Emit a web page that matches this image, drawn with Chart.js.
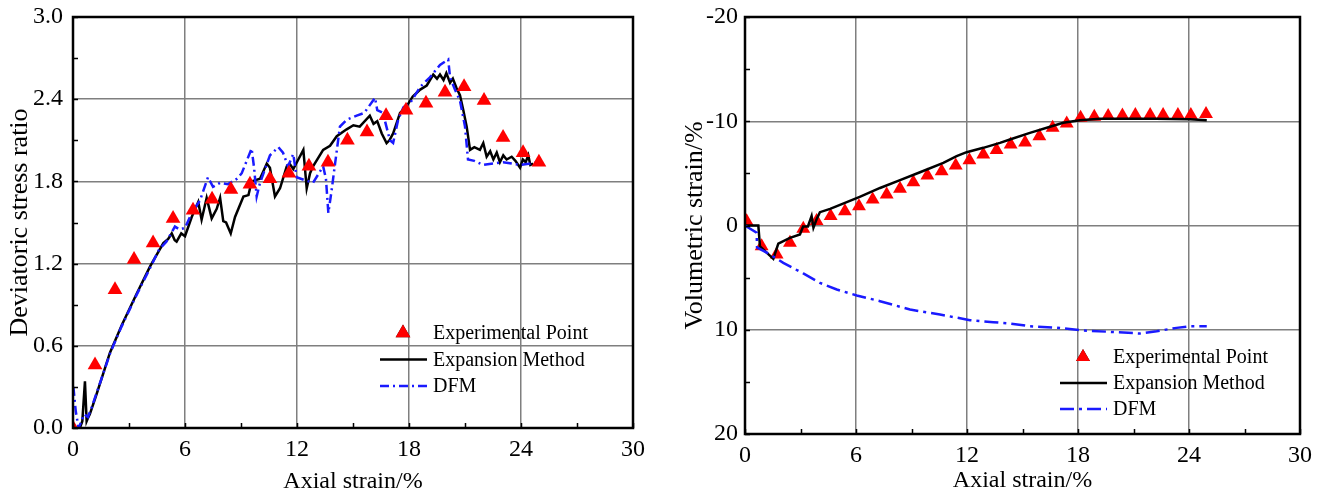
<!DOCTYPE html>
<html lang="en">
<head>
    <meta charset="UTF-8">
    <title>Deviatoric stress ratio and volumetric strain</title>
    <script src="https://cdn.jsdelivr.net/npm/chart.js"></script>
    <style>
        html, body { margin: 0; padding: 0; background: #fff; }
        .wrap { position: relative; width: 1322px; height: 494px; }
        #leftBox { position: absolute; left: 0; top: 0; width: 660px; height: 494px; }
        #rightBox { position: absolute; left: 660px; top: 0; width: 662px; height: 494px; }
    </style>
</head>
<body>
<div class="wrap">
    <div id="leftBox"><canvas id="stressChart" width="660" height="494"></canvas></div>
    <div id="rightBox"><canvas id="volChart" width="662" height="494"></canvas></div>
</div>
<script>
// ---- left chart: deviatoric stress ratio ----
const stressTicks = [0, 0.6, 1.2, 1.8, 2.4, 3.0];
const strainTicks = [0, 6, 12, 18, 24, 30];

const expStressX = [0, 1.18, 2.25, 3.27, 4.29, 5.36, 6.43, 7.45, 8.46, 9.48,
    10.55, 11.57, 12.64, 13.66, 14.70, 15.75, 16.77, 17.84, 18.91, 19.93,
    20.95, 22.02, 23.04, 24.11, 24.96];
const expStressY = [0, 0.46, 1.01, 1.23, 1.35, 1.53, 1.59, 1.67, 1.74, 1.78,
    1.82, 1.86, 1.91, 1.94, 2.10, 2.16, 2.28, 2.32, 2.37, 2.45,
    2.49, 2.39, 2.12, 2.01, 1.94];

const expanStressX = [0.37, 0.50, 0.64, 0.73, 0.79, 0.90, 1.27, 1.98, 2.61, 3.41,
    4.13, 4.84, 5.10, 5.29, 5.45, 5.55, 5.80, 6.00, 6.36, 6.71,
    6.89, 7.16, 7.43, 7.70, 7.88, 8.05, 8.20, 8.45, 8.68, 9.13,
    9.40, 9.57, 10.02, 10.38, 10.55, 10.82, 11.09, 11.45, 11.60, 11.80,
    12.07, 12.34, 12.52, 12.70, 12.86, 13.40, 13.77, 14.13, 14.66, 15.02,
    15.36, 15.90, 16.10, 16.30, 16.54, 16.80, 16.95, 17.15, 17.52, 17.88,
    18.20, 18.60, 18.95, 19.30, 19.50, 19.66, 19.85, 20.00, 20.20, 20.35,
    20.55, 20.73, 20.91, 21.09, 21.27, 21.50, 21.80, 21.98, 22.16, 22.35,
    22.52, 22.70, 22.87, 23.05, 23.23, 23.50, 23.70, 23.95, 24.10, 24.25,
    24.39, 24.50, 24.65];
const expanStressY = [0.00, 0.05, 0.34, 0.05, 0.07, 0.10, 0.25, 0.55, 0.75, 0.98,
    1.18, 1.35, 1.38, 1.42, 1.37, 1.36, 1.42, 1.40, 1.54, 1.65,
    1.52, 1.68, 1.53, 1.60, 1.68, 1.51, 1.50, 1.42, 1.54, 1.69,
    1.70, 1.80, 1.82, 1.93, 1.90, 1.69, 1.75, 1.91, 1.93, 1.89,
    1.96, 2.03, 1.75, 1.86, 1.91, 2.03, 2.06, 2.13, 2.18, 2.21,
    2.20, 2.28, 2.22, 2.24, 2.15, 2.08, 2.10, 2.15, 2.30, 2.35,
    2.42, 2.47, 2.50, 2.58, 2.55, 2.58, 2.54, 2.59, 2.52, 2.55,
    2.48, 2.43, 2.32, 2.20, 2.03, 2.05, 2.03, 2.08, 1.98, 2.02,
    1.96, 2.01, 1.94, 1.99, 1.96, 1.98, 1.95, 1.90, 1.96, 1.94,
    1.99, 1.92, 1.93];

const dfmStressX = [0.02, 0.15, 0.30, 0.60, 0.80, 1.00, 1.50, 2.00, 2.60, 3.40,
    4.10, 4.60, 5.00, 5.46, 5.70, 6.00, 6.36, 6.80, 7.23, 7.50,
    7.88, 8.30, 8.80, 9.04, 9.57, 9.70, 9.84, 10.00, 10.55, 11.00,
    11.25, 11.52, 11.80, 11.98, 12.40, 12.86, 13.40, 13.55, 13.68, 13.84,
    14.04, 14.30, 14.66, 15.20, 15.60, 16.18, 16.30, 16.60, 16.98, 17.15,
    17.42, 17.70, 18.10, 18.60, 19.12, 19.66, 20.10, 20.20, 20.46, 20.73,
    21.00, 21.16, 21.50, 21.98, 22.50, 23.04, 23.50, 23.95, 24.50, 24.90];
const dfmStressY = [0.30, 0.12, 0.00, 0.10, 0.08, 0.15, 0.35, 0.55, 0.74, 0.97,
    1.16, 1.30, 1.36, 1.47, 1.45, 1.46, 1.57, 1.66, 1.83, 1.76,
    1.79, 1.78, 1.82, 1.86, 2.04, 1.90, 1.69, 1.78, 1.99, 2.05,
    2.01, 1.91, 2.00, 1.83, 1.81, 1.79, 1.91, 1.82, 1.57, 1.72,
    1.93, 2.20, 2.25, 2.28, 2.30, 2.41, 2.32, 2.30, 2.10, 2.08,
    2.25, 2.34, 2.38, 2.49, 2.56, 2.65, 2.69, 2.56, 2.47, 2.39,
    2.20, 1.96, 1.95, 1.92, 1.93, 1.94, 1.93, 1.92, 1.93, 1.94];

// ---- right chart: volumetric strain ----
const volTicks = [-20, -10, 0, 10, 20];

const expVolX = [0.09, 0.90, 1.71, 2.43, 3.15, 3.87, 4.63, 5.40, 6.16, 6.90,
    7.66, 8.38, 9.10, 9.86, 10.63, 11.39, 12.13, 12.88, 13.60, 14.36,
    15.14, 15.91, 16.63, 17.39, 18.14, 18.88, 19.63, 20.40, 21.10, 21.90,
    22.60, 23.40, 24.10, 24.92];
const expVolY = [-0.41, 2.00, 2.78, 1.65, 0.30, -0.42, -0.90, -1.37, -1.85, -2.49,
    -2.97, -3.52, -4.16, -4.80, -5.21, -5.76, -6.27, -6.81, -7.25, -7.77,
    -7.96, -8.57, -9.37, -9.78, -10.33, -10.43, -10.50, -10.55, -10.60, -10.60,
    -10.60, -10.60, -10.60, -10.70];

const expanVolX = [0, 0.72, 0.81, 1.53, 1.80, 2.43, 2.97, 3.14, 3.40, 3.60,
    3.70, 3.87, 4.05, 4.60, 5.50, 6.20, 7.30, 8.38, 9.46, 10.72,
    11.44, 11.98, 12.88, 13.78, 14.32, 15.40, 16.49, 17.20, 18.10, 19.19,
    20.40, 22.20, 24.05, 24.96];
const expanVolY = [0, 0, 2.00, 3.20, 1.73, 1.18, 0.86, 0.10, 0.10, -0.90,
    0.20, -0.60, -1.28, -1.60, -2.24, -2.75, -3.60, -4.35, -5.11, -6.00,
    -6.65, -7.03, -7.45, -7.93, -8.25, -8.89, -9.47, -9.85, -10.10, -10.23,
    -10.25, -10.25, -10.20, -10.10];

const dfmVolX = [0, 0.63, 0.65, 1.35, 2.07, 3.15, 4.05, 4.96, 6.04, 7.30,
    8.92, 10.54, 12.16, 13.42, 14.32, 15.40, 16.85, 18.29, 19.73, 21.35,
    22.25, 23.33, 24.05, 24.96];
const dfmVolY = [0, 0.70, 2.10, 2.78, 3.58, 4.60, 5.50, 6.14, 6.71, 7.26,
    8.06, 8.54, 9.08, 9.27, 9.40, 9.66, 9.80, 10.07, 10.20, 10.36,
    10.14, 9.82, 9.66, 9.66];

const seriesNames = ['Experimental Point', 'Expansion Method', 'DFM'];

function pts(xs, ys) {
    return xs.map((x, i) => ({ x: x, y: ys[i] }));
}

Chart.defaults.font.family = "'Liberation Serif', 'Times New Roman', serif";
Chart.defaults.color = '#000';

// frame, inward ticks and the legend inside the plot
const framePlugin = {
    id: 'frame',
    afterDraw(chart, args, opts) {
        const ctx = chart.ctx;
        const a = chart.chartArea;
        const xs = chart.scales.x, ys = chart.scales.y;
        ctx.save();
        ctx.strokeStyle = '#000';
        ctx.lineWidth = 1.5;
        ctx.beginPath();
        for (let v = xs.min; v <= xs.max + 1e-9; v += opts.xMinor) {
            const p = Math.round(xs.getPixelForValue(v)) + 0.5;
            ctx.moveTo(p, a.bottom);
            ctx.lineTo(p, a.bottom - 5);
        }
        const lo = Math.min(ys.min, ys.max), hi = Math.max(ys.min, ys.max);
        for (let v = lo; v <= hi + 1e-9; v += opts.yMinor) {
            const p = Math.round(ys.getPixelForValue(v)) + 0.5;
            ctx.moveTo(a.left, p);
            ctx.lineTo(a.left + 5, p);
        }
        ctx.stroke();
        ctx.lineWidth = 2.5;
        ctx.strokeRect(a.left, a.top, a.right - a.left, a.bottom - a.top);

        // legend
        const tx = a.left + opts.legX;
        let ty = a.top + opts.legY;
        ctx.font = "20px 'Liberation Serif', 'Times New Roman', serif";
        ctx.textBaseline = 'middle';
        ctx.fillStyle = '#000';
        chart.data.datasets.forEach((ds, i) => {
            const row = ty + opts.legDy * ds.legRow;
            if (ds.showLine === false) {
                Chart.helpers.drawPoint(ctx, { pointStyle: 'triangle', radius: ds.pointRadius, borderWidth: 0 }, tx - 30, row);
                ctx.fillStyle = ds.pointBackgroundColor;
                ctx.fill();
            } else {
                ctx.beginPath();
                ctx.strokeStyle = ds.borderColor;
                ctx.lineWidth = ds.borderWidth;
                ctx.setLineDash(ds.borderDash || []);
                ctx.moveTo(tx - 53, row);
                ctx.lineTo(tx - 6, row);
                ctx.stroke();
                ctx.setLineDash([]);
            }
            ctx.fillStyle = '#000';
            ctx.fillText(seriesNames[ds.legRow], tx, row + 1);
        });
        ctx.restore();
    }
};

function makeChart(id, o) {
    const ctx = document.getElementById(id).getContext('2d');
    return new Chart(ctx, {
        type: 'scatter',
        data: {
            datasets: [
                {
                    label: seriesNames[0], legRow: 0,
                    data: pts(o.exp[0], o.exp[1]),
                    showLine: false,
                    pointStyle: 'triangle', pointRadius: o.triR,
                    pointBackgroundColor: '#ff0000', pointBorderColor: '#ff0000', pointBorderWidth: 0,
                    clip: 0,
                    order: o.triOrder
                },
                {
                    label: seriesNames[1], legRow: 1,
                    data: pts(o.expan[0], o.expan[1]),
                    showLine: true, borderColor: '#000000', borderWidth: 2.5,
                    pointRadius: 0, tension: 0,
                    order: 2
                },
                {
                    label: seriesNames[2], legRow: 2,
                    data: pts(o.dfm[0], o.dfm[1]),
                    showLine: true, borderColor: '#1a1aff', borderWidth: 2.5,
                    borderDash: o.dash,
                    pointRadius: 0, tension: 0,
                    order: 1.5
                }
            ]
        },
        options: {
            responsive: false,
            animation: false,
            devicePixelRatio: 1,
            layout: { padding: { top: 17, right: o.padRight, left: 0, bottom: 0 } },
            plugins: {
                legend: { display: false },
                tooltip: { enabled: false },
                frame: o.frame
            },
            scales: {
                x: {
                    type: 'linear', min: 0, max: 30,
                    afterBuildTicks: s => { s.ticks = strainTicks.map(v => ({ value: v })); },
                    afterFit: s => { s.height = o.xHeight; s.paddingLeft = 0; s.paddingRight = 0; },
                    grid: { color: '#7f7f7f', lineWidth: 1.5, drawTicks: false },
                    border: { display: false },
                    ticks: { font: { size: 24 }, padding: 7, maxRotation: 0, callback: v => String(v) },
                    title: { display: true, text: 'Axial strain/%', font: { size: 24, lineHeight: 1 }, padding: { top: 0, bottom: o.xTitlePad } }
                },
                y: {
                    type: 'linear', min: o.yMin, max: o.yMax, reverse: o.yReverse,
                    afterBuildTicks: s => { s.ticks = o.yTicks.map(v => ({ value: v })); },
                    afterFit: s => { s.width = o.yWidth; s.paddingTop = 0; s.paddingBottom = 0; },
                    grid: { color: '#7f7f7f', lineWidth: 1.5, drawTicks: false },
                    border: { display: false },
                    ticks: { font: { size: 24 }, padding: o.yTickPad, callback: o.yFmt },
                    title: { display: true, text: o.yTitle, font: { size: o.yTitleSize, lineHeight: 1 }, padding: { top: o.yTitlePad, bottom: 0 } }
                }
            }
        },
        plugins: [framePlugin]
    });
}

makeChart('stressChart', {
    exp: [expStressX, expStressY],
    expan: [expanStressX, expanStressY],
    dfm: [dfmStressX, dfmStressY],
    triR: 8.5, triOrder: 0,
    dash: [9, 4, 2, 4],
    padRight: 27, xHeight: 66, yWidth: 73, xTitlePad: 0,
    yMin: 0, yMax: 3, yReverse: false, yTicks: stressTicks,
    yFmt: v => v.toFixed(1), yTickPad: 10,
    yTitle: 'Deviatoric stress ratio', yTitleSize: 26, yTitlePad: 7,
    frame: { xMinor: 3, yMinor: 0.3, legX: 360, legY: 316, legDy: 26.5 }
});

makeChart('volChart', {
    exp: [expVolX, expVolY],
    expan: [expanVolX, expanVolY],
    dfm: [dfmVolX, dfmVolY],
    triR: 8, triOrder: 3,
    dash: [14, 5, 3, 5],
    padRight: 22, xHeight: 60, yWidth: 85, xTitlePad: 1,
    yMin: -20, yMax: 20, yReverse: true, yTicks: volTicks,
    yFmt: v => String(v), yTickPad: 7,
    yTitle: 'Volumetric strain/%', yTitleSize: 26, yTitlePad: 22,
    frame: { xMinor: 3, yMinor: 5, legX: 368, legY: 340, legDy: 26 }
});
</script>
</body>
</html>
